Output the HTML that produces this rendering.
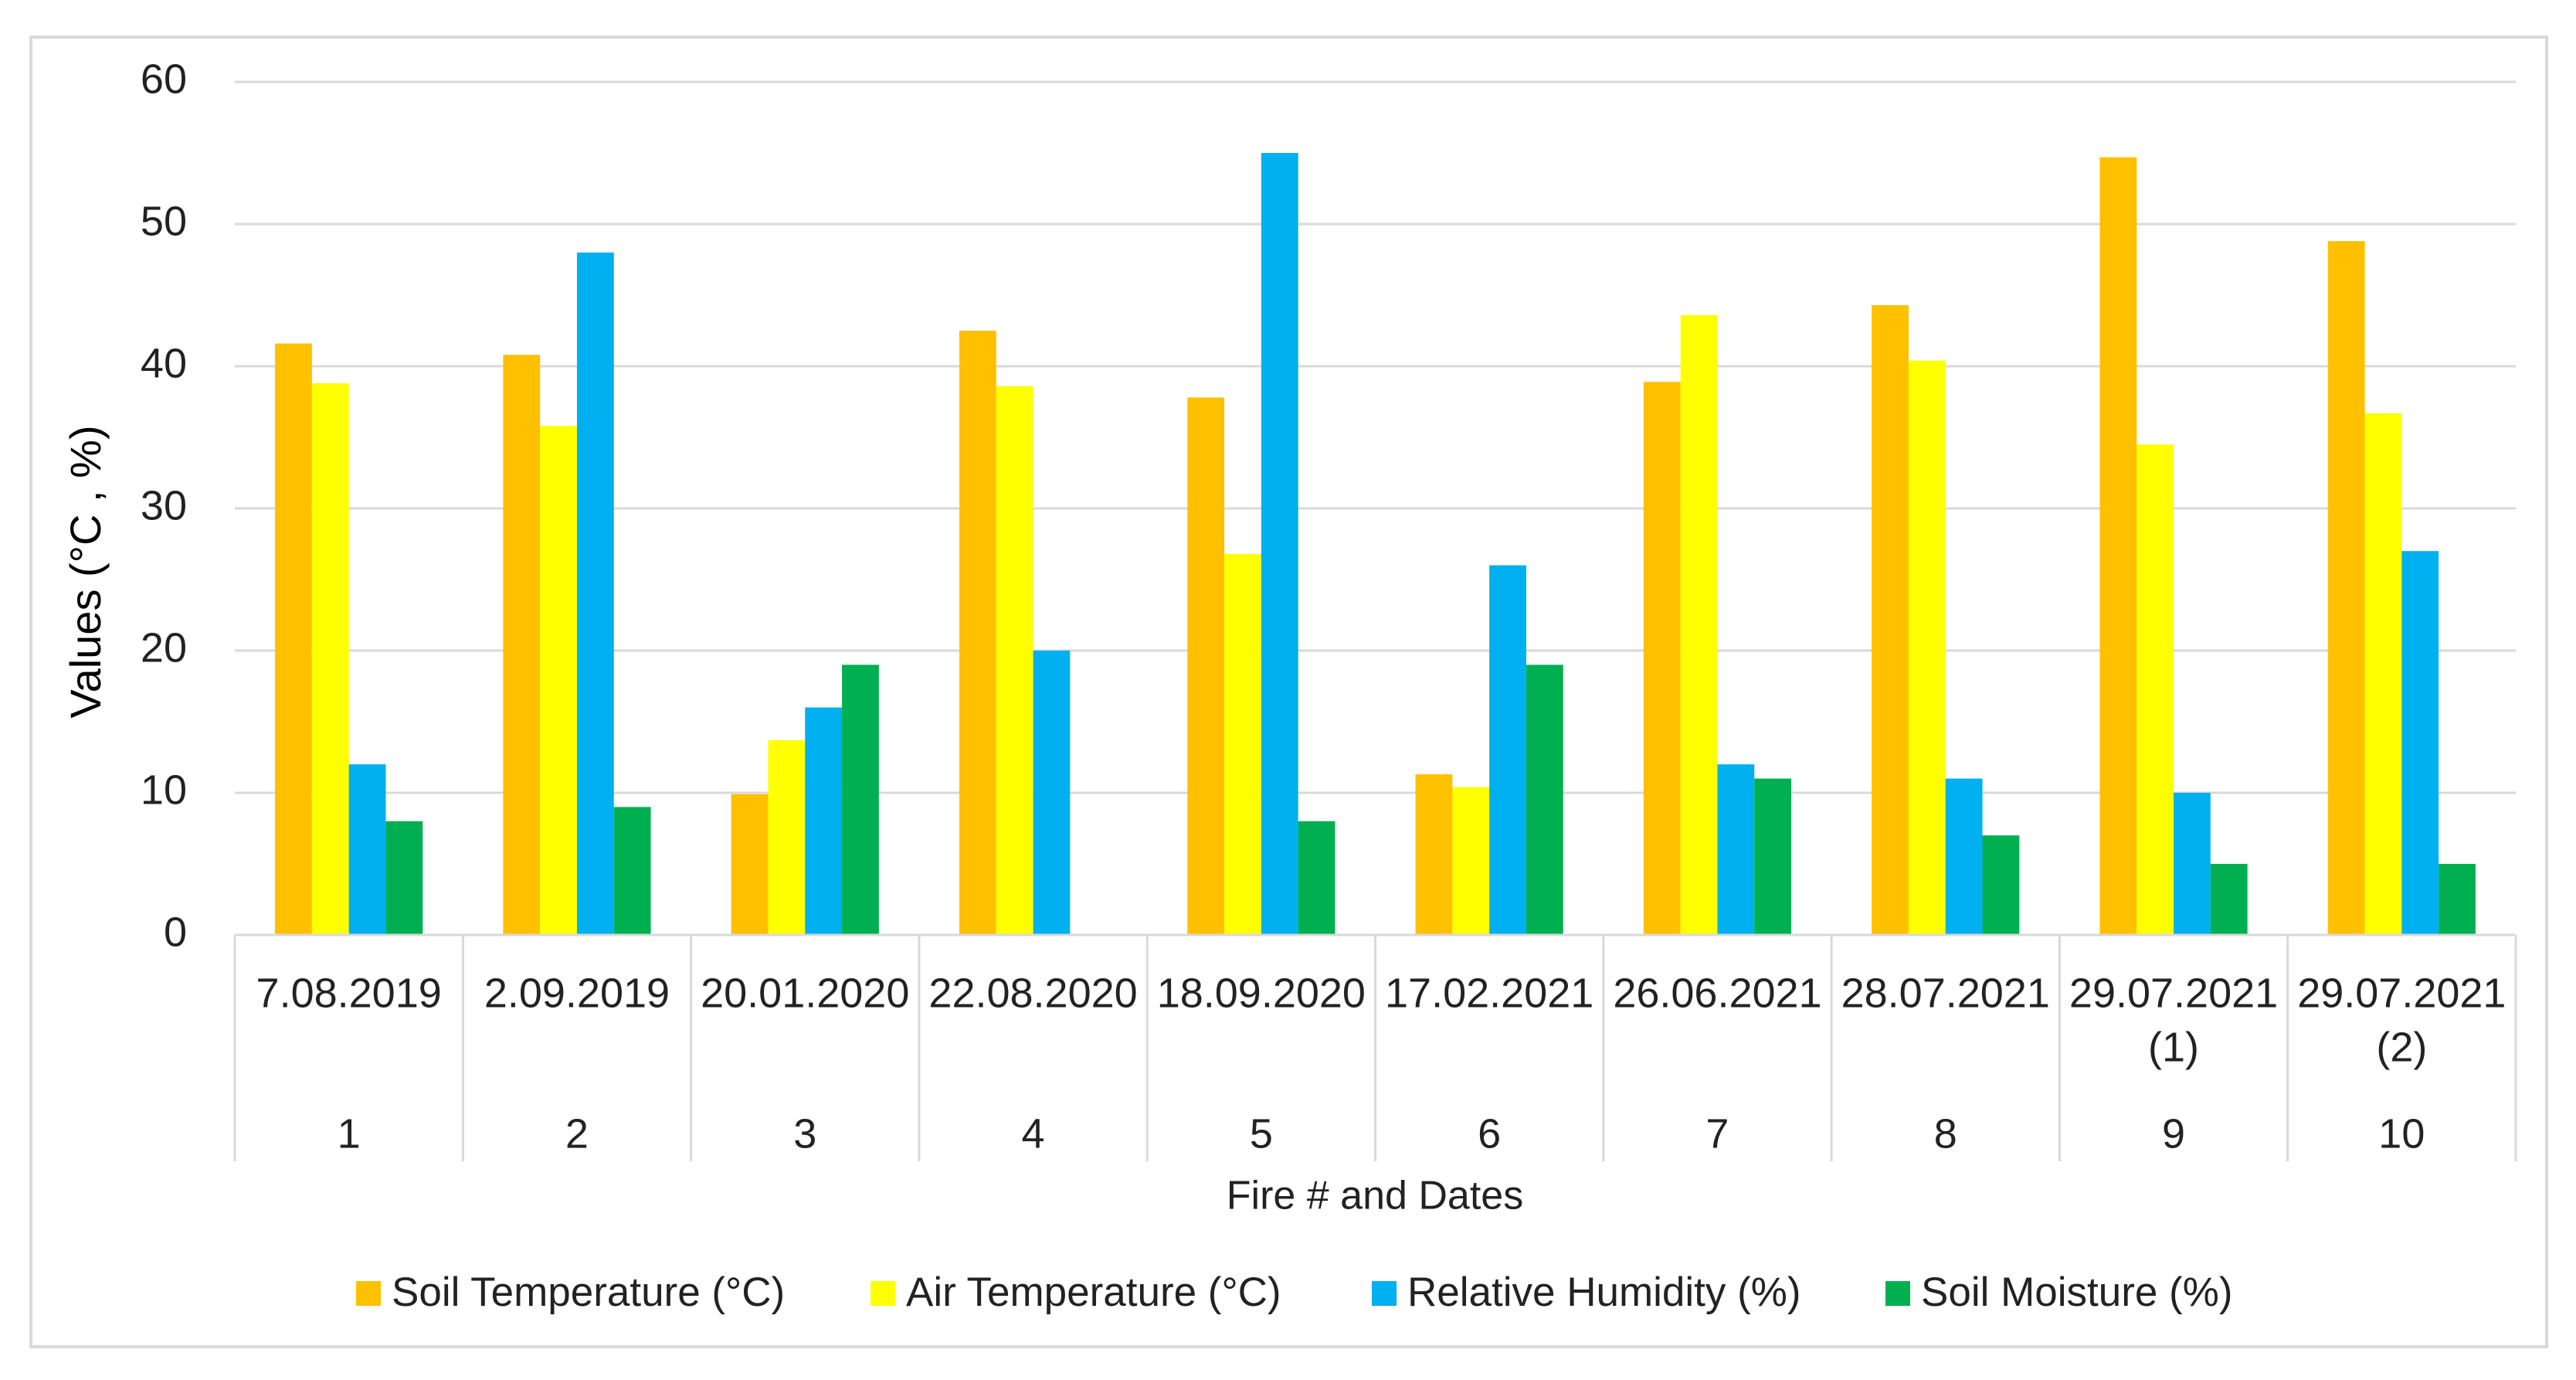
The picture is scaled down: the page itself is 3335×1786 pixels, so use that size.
<!DOCTYPE html>
<html><head><meta charset="utf-8"><style>
html,body{margin:0;padding:0;background:#fff;}
svg{display:block;font-family:"Liberation Sans",sans-serif;}
</style></head><body>
<svg id="chart" width="3335" height="1786" viewBox="0 0 3335 1786">
<rect x="40" y="48" width="3257" height="1695" fill="#fff" stroke="#d9d9d9" stroke-width="4"/>
<g id="grid"></g><g id="bars"></g><g id="xaxis"></g>
<text x="115" y="740" transform="rotate(-90 115 740)" text-anchor="middle" dominant-baseline="middle" font-size="56" fill="#000">Values (°C , %)</text>
<text x="1780" y="1551" text-anchor="middle" dominant-baseline="middle" font-size="52" fill="#222">Fire # and Dates</text>
<g id="legend"></g>
</svg>
<script>
const dates=["7.08.2019","2.09.2019","20.01.2020","22.08.2020","18.09.2020","17.02.2021","26.06.2021","28.07.2021","29.07.2021|(1)","29.07.2021|(2)"];
const fireNums=["1","2","3","4","5","6","7","8","9","10"];
const seriesNames=["Soil Temperature (°C)","Air Temperature (°C)","Relative Humidity (%)","Soil Moisture (%)"];
const soilTemp=[41.6,40.8,9.9,42.5,37.8,11.3,38.9,44.3,54.7,48.8];
const airTemp=[38.8,35.8,13.7,38.6,26.8,10.4,43.6,40.4,34.5,36.7];
const humidity=[12,48,16,20,55,26,12,11,10,27];
const moisture=[8,9,19,0,8,19,11,7,5,5];
const yTicks=[0,10,20,30,40,50,60];
const colors=["#FFC000","#FFFF00","#00B0F0","#00B050"];
const NS="http://www.w3.org/2000/svg";
const L=304,R=3257,Y0=1210,Y60=106;
const y=v=>Y0-(v/60)*(Y0-Y60);
const cw=(R-L)/dates.length;
const bw=47.8;
const xb=(i,s)=>L+i*cw+(cw-4*bw)/2+s*bw;
function mk(t,a,p){const e=document.createElementNS(NS,t);for(const k in a)e.setAttribute(k,a[k]);p.appendChild(e);return e;}
const grid=document.getElementById('grid');
yTicks.forEach(v=>{
 if(v>0){const g=mk('line',{x1:L,x2:R,y1:y(v),y2:y(v),stroke:'#d9d9d9','stroke-width':3},grid);
 
 }
 const t=mk('text',{x:242,y:y(v),'text-anchor':'end','dominant-baseline':'middle','font-size':54,fill:'#222'},grid);
 t.textContent=v;
 
 
});
const bars=document.getElementById('bars');
[soilTemp,airTemp,humidity,moisture].forEach((arr,s)=>{
 arr.forEach((v,i)=>{
  const r=mk('rect',{x:xb(i,s),y:y(v),width:bw,height:Y0-y(v),fill:colors[s]},bars);
  
  
 });
});
const xa=document.getElementById('xaxis');
mk('line',{x1:L,x2:R,y1:Y0,y2:Y0,stroke:'#d9d9d9','stroke-width':3},xa);
for(let i=0;i<=dates.length;i++){
 const x=L+i*cw;
 const l=mk('line',{x1:x,x2:x,y1:Y0,y2:1503,stroke:'#d9d9d9','stroke-width':3},xa);
 
 
}
dates.forEach((d,i)=>{
 const cx=L+(i+0.5)*cw;
 d.split('|').forEach((part,k)=>{
  const t=mk('text',{x:cx,y:1289+k*70,'text-anchor':'middle','dominant-baseline':'middle','font-size':54,fill:'#222'},xa);
  t.textContent=part;
  
  
 });
 const n=mk('text',{x:cx,y:1471,'text-anchor':'middle','dominant-baseline':'middle','font-size':54,fill:'#222'},xa);
 n.textContent=fireNums[i];
 
 
});
const lg=document.getElementById('legend');
const lx=[461,1127,1776,2441];
seriesNames.forEach((nm,s)=>{
 const g=mk('g',{},lg);
 
 
 mk('rect',{x:lx[s],y:1658,width:32,height:32,fill:colors[s]},g);
 const t=mk('text',{x:lx[s]+46,y:1676,'dominant-baseline':'middle','font-size':53,fill:'#222'},g);
 t.textContent=nm;
});
</script>
</body></html>
